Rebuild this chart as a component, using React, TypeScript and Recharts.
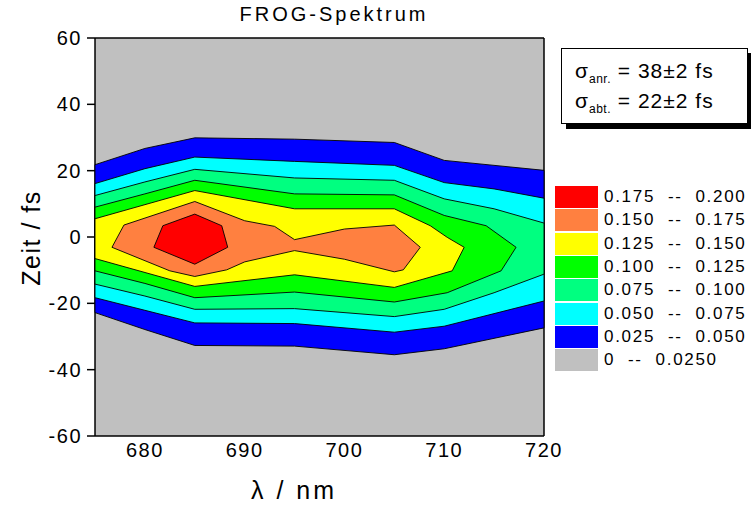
import React from 'react';
import { ComposedChart, Scatter, XAxis, YAxis, ReferenceArea } from 'recharts';

// contour levels, lowest first (each one is a closed polygon: lambda / nm, Zeit / fs)
const lvl025 = [[675, 21.8], [680, 26.7], [685, 29.9], [695, 29.5], [705, 28.5], [710, 23.1], [720, 20.1], [720, -27.4], [710, -33.7], [705, -35.5], [695, -32.9], [685, -32.7], [680, -27.9], [675, -22.8]];
const lvl050 = [[675, 16.1], [680, 20.6], [685, 24.1], [695, 22.8], [705, 21.6], [710, 16.4], [715, 14.5], [720, 11.7], [720, -19.3], [710, -26.9], [705, -28.7], [695, -26.1], [685, -25.9], [680, -22.1], [675, -18.3]];
const lvl075 = [[675, 12.5], [680, 16.6], [685, 20.4], [695, 17.8], [705, 17.1], [710, 11.5], [715, 8.5], [720, 4.2], [720, -11.2], [715, -16.8], [710, -21.8], [705, -24.0], [695, -21.6], [685, -21.8], [680, -17.8], [675, -14.2]];
const lvl100 = [[675, 9.0], [680, 13.0], [685, 17.1], [695, 13.0], [705, 12.7], [710, 6.5], [714.2, 3.4], [717.2, -3.1], [715.7, -10.2], [710.3, -16.8], [705, -19.6], [695, -16.6], [685, -18.3], [680, -14.0], [675, -10.2]];
const lvl125 = [[675, 5.5], [685, 14.0], [695, 8.5], [705, 8.5], [708.6, 3.4], [710.3, -0.1], [712, -3.1], [710.8, -10.2], [705, -15.2], [695, -11.4], [685, -14.9], [675, -6.5]];
const lvl150 = [[676.7, -3.1], [677.9, 3.6], [685, 10.7], [690, 4.9], [693, 3.2], [695, -0.8], [700, 2.4], [705, 3.6], [707.6, -3.1], [705.9, -9.9], [705, -10.5], [700, -6.7], [695, -4.1], [690, -7.5], [688.2, -9.9], [685, -11.9], [682.5, -10.2]];
const lvl175 = [[685, 6.9], [687.7, 3.4], [688.3, -3.1], [685, -8.2], [680.9, -3.1], [681.8, 3.4]];

const levels = [lvl025, lvl050, lvl075, lvl100, lvl125, lvl150, lvl175];
const levelColors = ['#0000ff', '#00ffff', '#00ff80', '#00ff00', '#ffff00', '#ff8040', '#ff0000'];

const legendLabels = ['0.175  --  0.200', '0.150  --  0.175', '0.125  --  0.150', '0.100  --  0.125', '0.075  --  0.100', '0.050  --  0.075', '0.025  --  0.050', '0  --  0.0250'];
const legendColors = ['#ff0000', '#ff8040', '#ffff00', '#00ff00', '#00ff80', '#00ffff', '#0000ff', '#c0c0c0'];

const xMajor = [680, 690, 700, 710, 720];
const xMinor = [675, 685, 695, 705, 715];
const yMajor = [-60, -40, -20, 0, 20, 40, 60];
const yMinor = [-56, -52, -48, -44, -36, -32, -28, -24, -16, -12, -8, -4, 4, 8, 12, 16, 24, 28, 32, 36, 44, 48, 52, 56];

const font = '"Liberation Sans", Arial, sans-serif';
const tickStyle = { fill: '#000', fontSize: 20, fontFamily: font, letterSpacing: 1.5 };
const frame = { stroke: '#000', strokeWidth: 1.5 };
// tick-only axes get a tiny size, a zero size axis is not drawn at all
const thin = 0.01;

const NoDot = () => <g />;

// close the ring so the outline is drawn all the way round
const toPoints = (ring: number[][]) => [...ring, ring[0]].map(([x, y]) => ({ x, y }));

export default function App() {
  return (
    <div style={{ position: 'absolute', left: 0, top: 0, width: 751, height: 508, background: '#fff', fontFamily: font }}>
      <ComposedChart width={751} height={508} margin={{ top: 38, right: 207, bottom: 32, left: 35 }}>
        <XAxis xAxisId="bMin" type="number" dataKey="x" domain={[675, 720]} ticks={xMinor} mirror height={thin} tick={false} tickSize={4} axisLine={false} tickLine={frame} />
        <XAxis xAxisId="bMaj" type="number" dataKey="x" domain={[675, 720]} ticks={xMajor} mirror height={thin} tick={false} tickSize={8} axisLine={false} tickLine={frame} />
        <XAxis xAxisId="tMin" orientation="top" type="number" dataKey="x" domain={[675, 720]} ticks={xMinor} mirror height={thin} tick={false} tickSize={4} axisLine={false} tickLine={frame} />
        <XAxis xAxisId="tMaj" orientation="top" type="number" dataKey="x" domain={[675, 720]} ticks={xMajor} mirror height={thin} tick={false} tickSize={8} axisLine={frame} tickLine={frame} />
        <YAxis yAxisId="lMin" type="number" dataKey="y" domain={[-60, 60]} ticks={yMinor} width={thin} tick={false} tickSize={4} axisLine={false} tickLine={frame} />
        <YAxis yAxisId="rMin" orientation="right" type="number" dataKey="y" domain={[-60, 60]} ticks={yMinor} mirror width={thin} tick={false} tickSize={4} axisLine={false} tickLine={frame} />
        <YAxis yAxisId="rMaj" orientation="right" type="number" dataKey="y" domain={[-60, 60]} ticks={yMajor} mirror width={thin} tick={false} tickSize={8} axisLine={frame} tickLine={frame} />

        <XAxis type="number" dataKey="x" domain={[675, 720]} ticks={xMajor} height={40} tickLine={false} axisLine={frame} tick={tickStyle} tickMargin={1} />
        <YAxis type="number" dataKey="y" domain={[-60, 60]} ticks={yMajor} width={60} tickSize={8} tickLine={frame} axisLine={frame} tick={tickStyle} tickMargin={5} />

        <ReferenceArea x1={675} x2={720} y1={-60} y2={60} fill="#c0c0c0" fillOpacity={1} stroke="none" />

        {levels.map((ring, i) => (
          <Scatter
            key={i}
            data={toPoints(ring)}
            shape={NoDot}
            line={{ fill: levelColors[i], stroke: '#000', strokeWidth: 0.9 }}
            lineJointType="linear"
            legendType="none"
            isAnimationActive={false}
          />
        ))}
      </ComposedChart>

      <div style={{ position: 'absolute', left: 0, width: 668, top: 3, textAlign: 'center', fontSize: 20, letterSpacing: 3 }}>FROG-Spektrum</div>
      <div style={{ position: 'absolute', left: 31, top: 238, transform: 'translate(-50%, -50%) rotate(-90deg)', fontSize: 25, letterSpacing: 1.5, whiteSpace: 'nowrap' }}>Zeit / fs</div>
      <div style={{ position: 'absolute', left: 294, top: 490, transform: 'translate(-50%, -50%)', fontSize: 25, letterSpacing: 3, whiteSpace: 'nowrap' }}>λ / nm</div>

      <div style={{ position: 'absolute', left: 561, top: 48, width: 185, height: 74, border: '1.5px solid #000', background: '#fff', boxShadow: '5px 5px 0 #000', fontSize: 21, letterSpacing: 1 }}>
        <div style={{ position: 'absolute', left: 13, top: 10, whiteSpace: 'nowrap' }}>σ<sub style={{ fontSize: 12, letterSpacing: 0.5 }}>anr.</sub> = 38±2 fs</div>
        <div style={{ position: 'absolute', left: 13, top: 40, whiteSpace: 'nowrap' }}>σ<sub style={{ fontSize: 12, letterSpacing: 0.5 }}>abt.</sub> = 22±2 fs</div>
      </div>

      {legendLabels.map((label, i) => (
        <div key={label} style={{ position: 'absolute', left: 555, top: 186 + i * 23.3, height: 22, display: 'flex', alignItems: 'center' }}>
          <div style={{ width: 43, height: 22, background: legendColors[i] }} />
          <span style={{ marginLeft: 6, fontSize: 17, letterSpacing: 1.7, whiteSpace: 'pre' }}>{label}</span>
        </div>
      ))}
    </div>
  );
}
